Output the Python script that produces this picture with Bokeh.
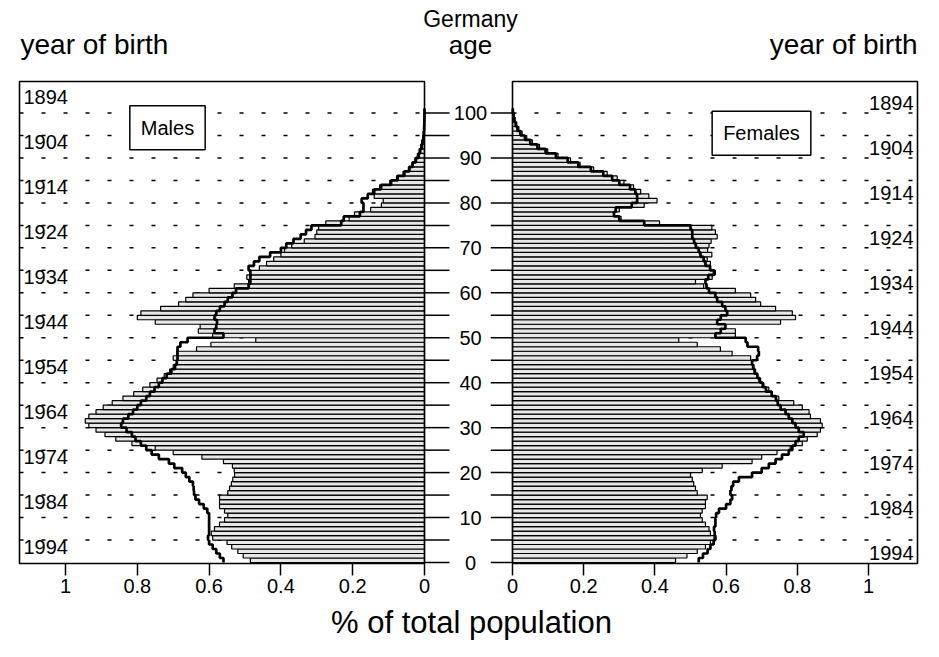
import numpy as np
from bokeh.plotting import figure
from bokeh.models import Range1d, FixedTicker, Label
from bokeh.layouts import column, row
from bokeh.embed import file_html
from bokeh.resources import INLINE
from bokeh.core.properties import value

# ---------------- data ----------------
ages = np.arange(0, 101)

male_1997 = [0.485, 0.505, 0.52, 0.537, 0.55, 0.59, 0.594, 0.585, 0.571, 0.557,
             0.548, 0.557, 0.571, 0.571, 0.571, 0.548, 0.543, 0.538, 0.534, 0.529,
             0.53, 0.535, 0.56, 0.62, 0.70, 0.75, 0.815, 0.86, 0.89, 0.915,
             0.935, 0.945, 0.935, 0.915, 0.895, 0.87, 0.84, 0.81, 0.785, 0.765,
             0.745, 0.725, 0.71, 0.70, 0.69, 0.70, 0.69, 0.635, 0.595, 0.47,
             0.59, 0.63, 0.625, 0.75, 0.80, 0.79, 0.735, 0.685, 0.665, 0.645,
             0.60, 0.53, 0.49, 0.495, 0.485, 0.46, 0.44, 0.42, 0.40, 0.39,
             0.37, 0.335, 0.305, 0.30, 0.295, 0.275, 0.21, 0.195, 0.15, 0.12,
             0.115, 0.14, 0.145, 0.125, 0.097, 0.078, 0.06, 0.045, 0.035, 0.027,
             0.02, 0.015, 0.011, 0.008, 0.005, 0.003, 0.002, 0.0015, 0.001, 0.0005,
             0.0003]

male_ref = [0.56, 0.57, 0.58, 0.59, 0.60, 0.603, 0.60, 0.60, 0.60, 0.60,
            0.60, 0.605, 0.615, 0.628, 0.638, 0.642, 0.643, 0.645, 0.655, 0.665,
            0.675, 0.697, 0.712, 0.74, 0.76, 0.775, 0.79, 0.805, 0.815, 0.83,
            0.845, 0.84, 0.825, 0.812, 0.80, 0.79, 0.775, 0.765, 0.752, 0.74,
            0.73, 0.718, 0.705, 0.695, 0.69, 0.688, 0.688, 0.688, 0.68, 0.66,
            0.56, 0.585, 0.58, 0.578, 0.585, 0.58, 0.57, 0.557, 0.548, 0.535,
            0.525, 0.49, 0.485, 0.485, 0.485, 0.49, 0.475, 0.46, 0.43, 0.40,
            0.385, 0.365, 0.345, 0.33, 0.315, 0.232, 0.225, 0.18, 0.17, 0.17,
            0.175, 0.158, 0.14, 0.121, 0.093, 0.075, 0.056, 0.042, 0.033, 0.024,
            0.016, 0.012, 0.008, 0.005, 0.003, 0.002, 0.001, 0.0005, 0.0003, 0.0,
            0.0]

female_1997 = [0.458, 0.49, 0.519, 0.542, 0.556, 0.566, 0.556, 0.552, 0.542, 0.533,
               0.528, 0.533, 0.542, 0.542, 0.547, 0.519, 0.514, 0.509, 0.505, 0.50,
               0.533, 0.589, 0.673, 0.70, 0.743, 0.78, 0.814, 0.828, 0.856, 0.865,
               0.87, 0.865, 0.837, 0.833, 0.814, 0.79, 0.748, 0.73, 0.72, 0.706,
               0.692, 0.687, 0.683, 0.678, 0.673, 0.669, 0.617, 0.584, 0.519, 0.467,
               0.626, 0.626, 0.598, 0.753, 0.795, 0.786, 0.739, 0.697, 0.683, 0.669,
               0.626, 0.537, 0.514, 0.561, 0.57, 0.556, 0.556, 0.547, 0.56, 0.548,
               0.552, 0.558, 0.575, 0.57, 0.56, 0.413, 0.305, 0.285, 0.30, 0.37,
               0.406, 0.383, 0.36, 0.34, 0.313, 0.294, 0.266, 0.228, 0.19, 0.163,
               0.128, 0.099, 0.076, 0.056, 0.04, 0.027, 0.018, 0.012, 0.007, 0.004,
               0.002]

female_ref = [0.523, 0.535, 0.548, 0.556, 0.565, 0.57, 0.568, 0.566, 0.57, 0.57,
              0.572, 0.58, 0.60, 0.612, 0.617, 0.612, 0.615, 0.62, 0.636, 0.673,
              0.70, 0.72, 0.739, 0.757, 0.776, 0.786, 0.795, 0.804, 0.818, 0.804,
              0.795, 0.786, 0.776, 0.767, 0.753, 0.745, 0.74, 0.728, 0.712, 0.703,
              0.695, 0.688, 0.68, 0.676, 0.673, 0.687, 0.692, 0.69, 0.66, 0.655,
              0.57, 0.585, 0.598, 0.575, 0.585, 0.603, 0.598, 0.589, 0.575, 0.57,
              0.552, 0.545, 0.542, 0.55, 0.566, 0.555, 0.542, 0.537, 0.528, 0.523,
              0.515, 0.51, 0.505, 0.505, 0.50, 0.37, 0.30, 0.285, 0.29, 0.335,
              0.35, 0.35, 0.345, 0.33, 0.30, 0.28, 0.255, 0.22, 0.185, 0.155,
              0.122, 0.093, 0.07, 0.05, 0.035, 0.022, 0.014, 0.009, 0.005, 0.003,
              0.001]

grid_ages = list(range(5, 101, 5))
age_ticks = list(range(0, 101, 5))
age_label_pos = list(range(0, 101, 10))
age_tick_labels = [str(a) for a in age_label_pos]
birth_years = list(range(1894, 1995, 10))
birth_labels = [str(y) for y in birth_years]
pct_ticks = [0, 0.2, 0.4, 0.6, 0.8, 1]
pct_tick_labels = ["0", "0.2", "0.4", "0.6", "0.8", "1"]

# ---------------- layout constants ----------------
FONT = "Liberation Sans"
PX_Y = 4.495          # px per year of age
M_PX = 359.0          # px per % (males)
F_PX = 356.0          # px per % (females)
Y_RANGE = (-10 / PX_Y, 484 / PX_Y)   # frame spans a little below the panels
BOX_TOP = 481 / PX_Y
BOX_BOTTOM = -1 / PX_Y
M_OUT = 405 / M_PX     # outer edge of male panel
F_OUT = 405 / F_PX     # outer edge of female panel
REF_L = 1997.5
REF_R = 1996.2

ys_step = np.column_stack([ages, ages + 1]).ravel()


def style_xaxis(p):
    ax = p.xaxis[0]
    ax.ticker = FixedTicker(ticks=pct_ticks)
    ax.major_label_overrides = dict(zip(pct_ticks, pct_tick_labels))
    ax.axis_line_color = None
    ax.major_tick_in = 9
    ax.major_tick_out = 3
    ax.minor_tick_out = 0
    ax.minor_tick_in = 0
    ax.major_tick_line_width = 1.5
    ax.major_tick_line_color = "black"
    ax.major_label_text_font = FONT
    ax.major_label_text_font_size = "20px"
    ax.major_label_text_color = "black"
    ax.major_label_standoff = 3


def base(p):
    p.outline_line_color = None
    p.grid.visible = False
    p.background_fill_color = "white"
    p.border_fill_color = "white"


# ---------------- males ----------------
pl = figure(frame_width=473, frame_height=494,
            x_range=Range1d(407 / M_PX, -66 / M_PX),
            y_range=Range1d(*Y_RANGE),
            min_border_left=17, min_border_right=0, min_border_top=0, min_border_bottom=33,
            y_axis_location=None, output_backend="svg", toolbar_location=None)
base(pl)
style_xaxis(pl)
pl.segment(x0=M_OUT, x1=0, y0=grid_ages, y1=grid_ages, line_dash="4 18",
           line_width=1.5, line_color="black")
pl.hbar(y=ages + 0.5, height=1, left=0, right=male_1997,
        fill_color="#e8e8e8", line_color="black", line_width=1.2)
pl.line(np.repeat(male_ref, 2), ys_step, line_width=2.7, line_color="black")
pl.quad(left=0, right=M_OUT, bottom=BOX_BOTTOM, top=BOX_TOP,
        fill_color=None, line_color="black", line_width=1.6)
pl.segment(x0=0, x1=-25 / M_PX, y0=age_ticks, y1=age_ticks,
           line_width=1.5, line_color="black")
pl.text(x=[-46 / M_PX] * len(age_label_pos), y=age_label_pos, text=age_tick_labels,
        text_align="center", text_baseline="middle",
        text_font=value(FONT), text_font_size="20px", text_color="black")
pl.text(x=M_OUT, y=[REF_L - yr for yr in birth_years], text=birth_labels,
        x_offset=4, text_align="left", text_baseline="middle",
        text_font=value(FONT), text_font_size="20px", text_color="black")
pl.add_layout(Label(x=(424 - 167) / M_PX, y=96.7, text="Males",
                    text_align="center", text_baseline="middle",
                    text_font=FONT, text_font_size="20px", text_color="black",
                    padding=11, border_line_color="black", border_line_width=1.5,
                    background_fill_color="white"))

# ---------------- females ----------------
pr = figure(frame_width=429, frame_height=494,
            x_range=Range1d(-22 / F_PX, 407 / F_PX),
            y_range=Range1d(*Y_RANGE),
            min_border_left=0, min_border_right=16, min_border_top=0, min_border_bottom=33,
            y_axis_location=None, output_backend="svg", toolbar_location=None)
base(pr)
style_xaxis(pr)
pr.segment(x0=0, x1=F_OUT, y0=grid_ages, y1=grid_ages, line_dash="4 18",
           line_width=1.5, line_color="black")
pr.hbar(y=ages + 0.5, height=1, left=0, right=female_1997,
        fill_color="#e8e8e8", line_color="black", line_width=1.2)
pr.line(np.repeat(female_ref, 2), ys_step, line_width=2.7, line_color="black")
pr.quad(left=0, right=F_OUT, bottom=BOX_BOTTOM, top=BOX_TOP,
        fill_color=None, line_color="black", line_width=1.6)
pr.segment(x0=-22 / F_PX, x1=0, y0=age_ticks, y1=age_ticks,
           line_width=1.5, line_color="black")
pr.text(x=F_OUT, y=[REF_R - yr for yr in birth_years], text=birth_labels,
        x_offset=-4, text_align="right", text_baseline="middle",
        text_font=value(FONT), text_font_size="20px", text_color="black")
pr.add_layout(Label(x=(761 - 512) / F_PX, y=95.5, text="Females",
                    text_align="center", text_baseline="middle",
                    text_font=FONT, text_font_size="20px", text_color="black",
                    padding=11, border_line_color="black", border_line_width=1.5,
                    background_fill_color="white"))

# ---------------- titles ----------------
top = figure(width=935, height=78, x_range=Range1d(0, 935), y_range=Range1d(0, 78),
             min_border=0, x_axis_location=None, y_axis_location=None,
             output_backend="svg", toolbar_location=None)
base(top)
top.add_layout(Label(x=470, y=60, text="Germany", text_align="center", text_baseline="middle",
                     text_font=FONT, text_font_size="23px", text_color="black"))
top.add_layout(Label(x=470, y=34, text="age", text_align="center", text_baseline="middle",
                     text_font=FONT, text_font_size="26px", text_color="black"))
top.add_layout(Label(x=20, y=34, text="year of birth", text_align="left", text_baseline="middle",
                     text_font=FONT, text_font_size="28px", text_color="black"))
top.add_layout(Label(x=917, y=34, text="year of birth", text_align="right", text_baseline="middle",
                     text_font=FONT, text_font_size="28px", text_color="black"))

bottom = figure(width=935, height=44, x_range=Range1d(0, 935), y_range=Range1d(0, 44),
                min_border=0, x_axis_location=None, y_axis_location=None,
                output_backend="svg", toolbar_location=None)
base(bottom)
bottom.add_layout(Label(x=471, y=27, text="% of total population", text_align="center",
                        text_baseline="middle", text_font=FONT, text_font_size="31px",
                        text_color="black"))

layout = column(top, row(pl, pr), bottom)
open("out.html", "w").write(file_html(layout, INLINE))
